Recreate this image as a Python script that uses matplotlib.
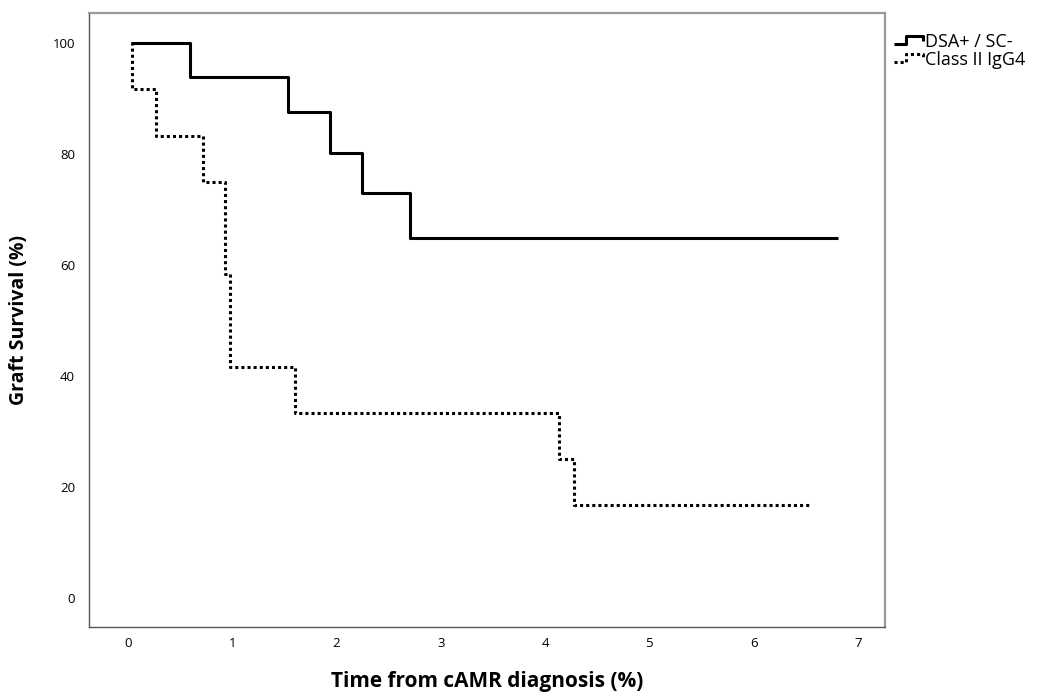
import matplotlib
matplotlib.use("Agg")
import matplotlib.pyplot as plt
from matplotlib.legend_handler import HandlerBase
from matplotlib.lines import Line2D

plt.rcParams["font.family"] = ["Open Sans", "DejaVu Sans"]

# --- donnees (Kaplan-Meier) ---
dsa_temps = [0.03, 0.59, 1.53, 1.94, 2.24, 2.70, 6.81]
dsa_survie = [100, 93.8, 87.5, 80.2, 73.0, 64.9, 64.9]

igg4_temps = [0.03, 0.04, 0.27, 0.72, 0.93, 0.98, 1.60, 4.13, 4.28, 6.55]
igg4_survie = [100, 91.7, 83.3, 75.0, 58.3, 41.7, 33.3, 25.0, 16.7, 16.7]

noms_series = ["DSA+ / SC-", "Class II IgG4"]
graduations_x = [0, 1, 2, 3, 4, 5, 6, 7]
graduations_y = [0, 20, 40, 60, 80, 100]


class HandlerMarche(HandlerBase):
    """Symbole de legende en forme de marche (style SPSS)."""
    def create_artists(self, legend, orig_handle, xdescent, ydescent,
                       width, height, fontsize, trans):
        x0, y0 = -xdescent, -ydescent
        xs = [x0, x0 + 0.4 * width, x0 + 0.4 * width, x0 + width, x0 + width]
        ys = [y0 + 0.2 * height, y0 + 0.2 * height, y0 + 0.9 * height,
              y0 + 0.9 * height, y0 + 0.45 * height]
        ligne = Line2D(xs, ys)
        ligne.update_from(orig_handle)
        ligne.set_drawstyle("default")
        ligne.set_clip_on(False)
        ligne.set_clip_box(None)
        ligne.set_transform(trans)
        return [ligne]


fig = plt.figure(figsize=(10.44, 6.97), dpi=100)
ax = fig.add_axes([0.0853, 0.1004, 0.7625, 0.881])

l1, = ax.plot(dsa_temps, dsa_survie, drawstyle="steps-post", color="black",
              linewidth=2.2, solid_capstyle="butt", label=noms_series[0])
l2, = ax.plot(igg4_temps, igg4_survie, drawstyle="steps-post", color="black",
              linewidth=2.2, linestyle=(0, (1, 1)), label=noms_series[1])

ax.set_xlim(-0.374, 7.26)
ax.set_ylim(-5.2, 105.4)
ax.set_xticks(graduations_x)
ax.set_yticks(graduations_y)
ax.tick_params(length=0, labelsize=9.5)
ax.tick_params(axis="x", pad=7)
ax.tick_params(axis="y", pad=10)

for cote in ["top", "right"]:
    ax.spines[cote].set_color("#999999")
    ax.spines[cote].set_linewidth(1.6)
for cote in ["left", "bottom"]:
    ax.spines[cote].set_color("#555555")
    ax.spines[cote].set_linewidth(1.0)

ax.set_xlabel("Time from cAMR diagnosis (%)", fontsize=15, fontweight="bold",
              labelpad=15)
ax.set_ylabel("Graft Survival (%)", fontsize=14, fontweight="bold",
              labelpad=17)

ax.legend(handles=[l1, l2], loc="upper left", bbox_to_anchor=(0.998, 0.985),
          frameon=False, fontsize=13, handlelength=1.6, handleheight=0.7,
          handletextpad=0.1, labelspacing=0.0, borderaxespad=0.2,
          handler_map={Line2D: HandlerMarche()})

fig.savefig("out.png", dpi=100)
